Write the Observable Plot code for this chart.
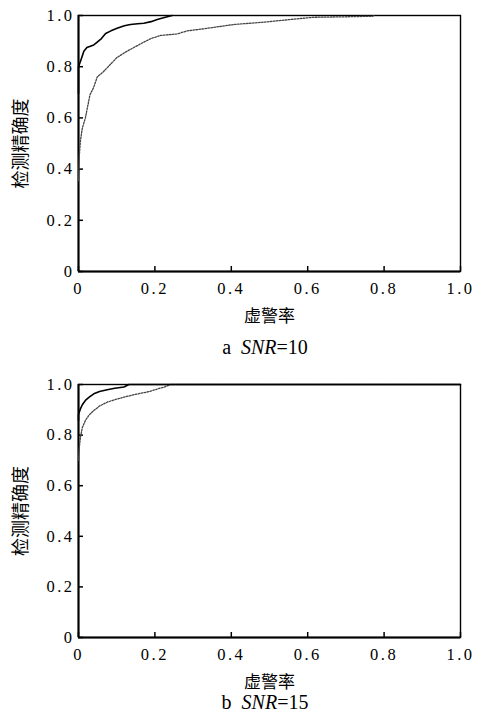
<!DOCTYPE html>
<html>
<head>
<meta charset="utf-8">
<script src="https://cdn.jsdelivr.net/npm/d3@7"></script>
<script src="https://cdn.jsdelivr.net/npm/@observablehq/plot@0.6"></script>
<style>
  html, body { margin: 0; padding: 0; background: #fff; }
  #root { position: relative; width: 484px; height: 722px; overflow: hidden; }
  .panel { position: absolute; left: 0; }
  .cap { position: absolute; left: 0; width: 530px; text-align: center; font-family: "Liberation Serif", serif; font-size: 20px; line-height: 22px; color: #000; }
</style>
</head>
<body>
<div id="root"></div>
<script>
// ----- data -----
const xTicks = [0, 0.2, 0.4, 0.6, 0.8, 1.0];
const yTicks = [0, 0.2, 0.4, 0.6, 0.8, 1.0];
const tickLabels = ["0", "0.2", "0.4", "0.6", "0.8", "1.0"];
const xLabel = "虚警率";
const yLabel = "检测精确度";

// panel a (SNR = 10)
const aSolidX = [0, 0, 0.005, 0.014, 0.022, 0.031, 0.04, 0.049, 0.06, 0.071, 0.085, 0.101, 0.12, 0.136, 0.155, 0.171, 0.19, 0.206, 0.225, 0.245];
const aSolidY = [0.695, 0.80, 0.82, 0.86, 0.875, 0.88, 0.885, 0.896, 0.91, 0.93, 0.94, 0.95, 0.96, 0.965, 0.968, 0.97, 0.976, 0.984, 0.992, 1.0];
const aDotX = [0, 0.002, 0.005, 0.01, 0.018, 0.03, 0.04, 0.049, 0.065, 0.084, 0.1, 0.123, 0.145, 0.171, 0.19, 0.215, 0.258, 0.285, 0.337, 0.407, 0.485, 0.572, 0.615, 0.7, 0.769, 0.775];
const aDotY = [0.355, 0.45, 0.51, 0.56, 0.60, 0.69, 0.72, 0.76, 0.78, 0.81, 0.835, 0.857, 0.875, 0.896, 0.91, 0.922, 0.928, 0.94, 0.95, 0.965, 0.974, 0.987, 0.993, 0.995, 0.997, 1.0];

// panel b (SNR = 15)
const bSolidX = [0, 0, 0.005, 0.01, 0.018, 0.028, 0.04, 0.055, 0.075, 0.095, 0.119, 0.132, 1.0];
const bSolidY = [0.858, 0.88, 0.904, 0.92, 0.937, 0.95, 0.963, 0.972, 0.979, 0.985, 0.99, 1.0, 1.0];
const bDotX = [0, 0.002, 0.005, 0.01, 0.018, 0.028, 0.04, 0.055, 0.075, 0.095, 0.119, 0.14, 0.162, 0.185, 0.206, 0.225, 0.241, 1.0];
const bDotY = [0.70, 0.75, 0.79, 0.83, 0.858, 0.88, 0.897, 0.915, 0.93, 0.94, 0.95, 0.958, 0.965, 0.972, 0.982, 0.99, 1.0, 1.0];

const panels = [
  {top: 0, plotH: 256, sx: aSolidX, sy: aSolidY, dx: aDotX, dy: aDotY, tag: "a", snr: "10", capTop: 336},
  {top: 369, plotH: 253, sx: bSolidX, sy: bSolidY, dx: bDotX, dy: bDotY, tag: "b", snr: "15", capTop: 691}
];

const fmt = d => tickLabels[xTicks.findIndex(t => Math.abs(t - d) < 1e-9)];
const root = document.getElementById("root");

for (const p of panels) {
  const solid = p.sx.map((x, i) => ({x, y: p.sy[i]}));
  const dotted = p.dx.map((x, i) => ({x, y: p.dy[i]}));
  const tickLenY = 5 / p.plotH;   // 5px inward tick, in y units
  const tickLenX = 5 / 382;       // 5px inward tick, in x units
  const chart = Plot.plot({
    width: 484,
    height: 15 + p.plotH + 60,
    marginTop: 15,
    marginLeft: 78,
    marginRight: 24,
    marginBottom: 60,
    style: {background: "#fff", color: "#000"},
    x: {domain: [0, 1]},
    y: {domain: [0, 1]},
    marks: [
      Plot.frame({stroke: "#000", strokeWidth: 1.4}),
      Plot.ruleX([0], {stroke: "#000", strokeWidth: 2}),
      Plot.ruleY([0], {stroke: "#000", strokeWidth: 2}),
      // inward ticks
      Plot.ruleX(xTicks, {x: d => d, y1: 0, y2: tickLenY, stroke: "#000", strokeWidth: 1.5}),
      Plot.ruleY(yTicks, {y: d => d, x1: 0, x2: tickLenX, stroke: "#000", strokeWidth: 1.5}),
      Plot.axisX(xTicks, {tickSize: 0, tickPadding: 11, tickFormat: fmt,
        label: xLabel, labelAnchor: "center", labelArrow: "none", labelOffset: 50}),
      Plot.axisY(yTicks, {tickSize: 0, tickPadding: 4, tickFormat: fmt,
        label: yLabel, labelAnchor: "center", labelArrow: "none", labelOffset: 64}),
      Plot.line(dotted, {x: "x", y: "y", stroke: "#444", strokeWidth: 1.3, strokeDasharray: "1.6,1.4"}),
      Plot.line(solid, {x: "x", y: "y", stroke: "#000", strokeWidth: 1.6})
    ]
  });
  const wrap = document.createElement("div");
  wrap.className = "panel";
  wrap.style.top = p.top + "px";
  wrap.appendChild(chart);
  root.appendChild(wrap);

  const cap = document.createElement("div");
  cap.className = "cap";
  cap.style.top = p.capTop + "px";
  cap.innerHTML = p.tag + "&nbsp;&nbsp;<i>SNR</i>=" + p.snr;
  root.appendChild(cap);
}

// fonts: serif numerals, CJK axis titles
for (const t of root.querySelectorAll("svg text")) {
  t.style.fill = "#000";
  if (/[\u4e00-\u9fff]/.test(t.textContent)) {
    t.style.fontFamily = "'Noto Sans CJK SC', sans-serif";
    t.style.fontSize = t.textContent === yLabel ? "18px" : "17px";
  } else {
    t.style.fontFamily = "'Liberation Serif', 'DejaVu Serif', serif";
    t.style.fontSize = "16.5px";
    t.style.letterSpacing = "2.5px";
  }
}
</script>
</body>
</html>
